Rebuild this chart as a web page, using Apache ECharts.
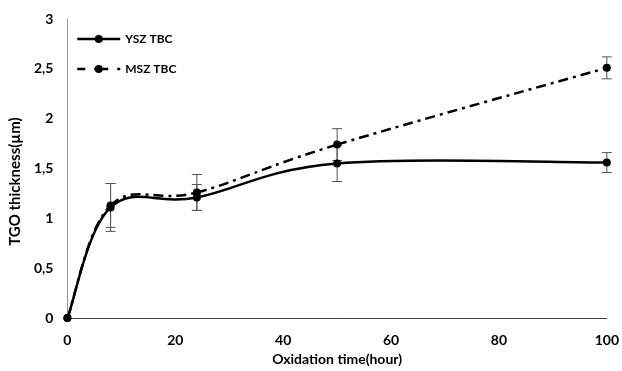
<!DOCTYPE html>
<html>
<head>
<meta charset="utf-8">
<script src="https://cdn.jsdelivr.net/npm/echarts@6/dist/echarts.min.js"></script>
<style>
  html, body { margin: 0; padding: 0; background: #fff; }
  #chart { width: 622px; height: 371px; }
</style>
</head>
<body>
<div id="chart"></div>
<script>
// hours of oxidation
const hours = [0, 8, 24, 50, 100]
// TGO thickness (µm)
const yszValues = [0, 1.11, 1.21, 1.55, 1.56]
const mszValues = [0, 1.13, 1.26, 1.74, 2.51]
// error bar half-widths
const yszErrors = [0, 0.24, 0.13, 0.18, 0.10]
const mszErrors = [0, 0.22, 0.18, 0.16, 0.11]
const yTicks = ['0', '0,5', '1', '1,5', '2', '2,5', '3']

const font = 'Lato, "Open Sans", sans-serif'

const pairs = (vals) => hours.map((h, i) => [h, vals[i]])
const errPairs = (vals, errs) => hours.map((h, i) => [h, vals[i] - errs[i], vals[i] + errs[i]])
    .filter((d, i) => errs[i] > 0)

const errorBars = (data) => ({
    type: 'custom',
    data: data,
    silent: true,
    z: 1,
    renderItem: (params, api) => {
        const lo = api.coord([api.value(0), api.value(1)])
        const hi = api.coord([api.value(0), api.value(2)])
        const cap = 5
        const style = { stroke: '#555', lineWidth: 1 }
        return {
            type: 'group',
            children: [
                { type: 'line', shape: { x1: lo[0], y1: lo[1], x2: hi[0], y2: hi[1] }, style },
                { type: 'line', shape: { x1: lo[0] - cap, y1: lo[1], x2: lo[0] + cap, y2: lo[1] }, style },
                { type: 'line', shape: { x1: hi[0] - cap, y1: hi[1], x2: hi[0] + cap, y2: hi[1] }, style }
            ]
        }
    }
})

// spreadsheet-style smoothed curve, one bezier per segment
const smoothCurve = (vals, dash) => ({
    type: 'custom',
    data: hours.slice(0, -1).map((h, i) => [i]),
    silent: true,
    z: 2,
    renderItem: (params, api) => {
        const i = api.value(0)
        const p = (k) => {
            k = Math.max(0, Math.min(hours.length - 1, k))
            return api.coord([hours[k], vals[k]])
        }
        const p0 = p(i - 1), p1 = p(i), p2 = p(i + 1), p3 = p(i + 2)
        const t = 1 / 5.5
        return {
            type: 'bezierCurve',
            shape: {
                x1: p1[0], y1: p1[1], x2: p2[0], y2: p2[1],
                cpx1: p1[0] + (p2[0] - p0[0]) * t, cpy1: p1[1] + (p2[1] - p0[1]) * t,
                cpx2: p2[0] - (p3[0] - p1[0]) * t, cpy2: p2[1] - (p3[1] - p1[1]) * t
            },
            style: { fill: null, stroke: '#000', lineWidth: 2.5, lineDash: dash }
        }
    }
})

const markerSeries = (name, vals) => ({
    name: name,
    type: 'line',
    data: pairs(vals),
    symbol: 'circle',
    symbolSize: 8,
    itemStyle: { color: '#000' },
    lineStyle: { color: '#000', width: 2.5, opacity: 0 },
    z: 3
})

const chart = echarts.init(document.getElementById('chart'))
chart.setOption({
    animation: false,
    backgroundColor: '#fff',
    grid: { left: 62, right: 14, top: 19, bottom: 47 },
    legend: {
        left: 71,
        top: 28,
        orient: 'vertical',
        itemWidth: 43,
        itemHeight: 10,
        itemGap: 18,
        textStyle: { fontFamily: font, fontWeight: 'bold', fontSize: 12, color: '#000' },
        data: [
            { name: 'YSZ TBC', lineStyle: { opacity: 1, width: 2.5, type: 'solid' } },
            { name: 'MSZ TBC', lineStyle: { opacity: 1, width: 2.5, type: [8, 9, 14, 9] } }
        ]
    },
    xAxis: {
        type: 'value',
        min: 0,
        max: 100,
        interval: 20,
        name: 'Oxidation time(hour)',
        nameLocation: 'middle',
        nameGap: 33,
        nameTextStyle: { fontFamily: font, fontWeight: 'bold', fontSize: 14, color: '#000' },
        axisLine: { lineStyle: { color: '#444', width: 1 } },
        axisTick: { show: false },
        splitLine: { show: false },
        axisLabel: { fontFamily: font, fontWeight: 'bold', fontSize: 14, color: '#000', margin: 15 }
    },
    yAxis: {
        type: 'value',
        min: 0,
        max: 3,
        interval: 0.5,
        name: 'TGO thickness(µm)',
        nameLocation: 'middle',
        nameGap: 41,
        nameTextStyle: { fontFamily: font, fontWeight: 'bold', fontSize: 15, color: '#000', padding: [0, 26, 0, 0] },
        axisLine: { show: true, lineStyle: { color: '#999', width: 1 } },
        axisTick: { show: false },
        splitLine: { show: false },
        axisLabel: {
            fontFamily: font, fontWeight: 'bold', fontSize: 14, color: '#000', margin: 14,
            formatter: (v) => yTicks[Math.round(v * 2)]
        }
    },
    series: [
        errorBars(errPairs(yszValues, yszErrors)),
        errorBars(errPairs(mszValues, mszErrors)),
        smoothCurve(yszValues, null),
        smoothCurve(mszValues, [10, 5, 3, 5]),
        markerSeries('YSZ TBC', yszValues),
        markerSeries('MSZ TBC', mszValues)
    ]
})
</script>
</body>
</html>
